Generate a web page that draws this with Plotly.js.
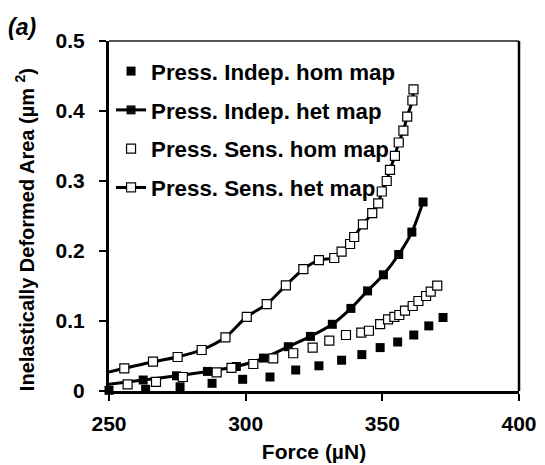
<!DOCTYPE html>
<html>
<head>
<meta charset="utf-8">
<script src="https://cdn.plot.ly/plotly-3.0.1.min.js"></script>
<style>
  html, body { margin: 0; padding: 0; background: #fff; }
  #chart { width: 545px; height: 465px; }
</style>
</head>
<body>
<div id="chart"></div>
<script>
// Force (µN) and inelastically deformed area (µm²) for each contact model
const indepHomForce = [250, 263.4, 276, 287.7, 298.9, 308.9, 318.3, 326.8, 335.1, 342.5, 349.2, 355.6, 361.5, 367, 372.2];
const indepHomArea  = [0.001, 0.0024, 0.006, 0.011, 0.0167, 0.020, 0.030, 0.036, 0.044, 0.052, 0.062, 0.070, 0.080, 0.093, 0.105];

const indepHetForce = [250, 262.5, 274.7, 286, 296.6, 306.5, 315.6, 323.7, 331.7, 338.5, 344.6, 350.4, 356, 360.8, 364.9];
const indepHetArea  = [0.0095, 0.0157, 0.0217, 0.028, 0.035, 0.047, 0.0633, 0.078, 0.0953, 0.118, 0.143, 0.166, 0.195, 0.227, 0.270];

const sensHomForce = [256.8, 267.2, 277, 289.4, 294.8, 302.8, 310.1, 317.4, 324.5, 330.6, 336.7, 342.3, 345.1, 349.2, 352.1, 354.4, 356.2, 358.3, 361.1, 363.2, 366, 367.7, 370.1];
const sensHomArea  = [0.0096, 0.0129, 0.020, 0.0267, 0.0329, 0.0386, 0.0467, 0.0539, 0.0621, 0.0719, 0.080, 0.0833, 0.0861, 0.0954, 0.1024, 0.106, 0.1086, 0.1147, 0.1214, 0.1286, 0.1357, 0.1419, 0.1504];

const sensHetForce = [250, 255.6, 266.1, 275.1, 283.9, 292.6, 300.4, 307.7, 314.7, 321.1, 326.8, 332.4, 335.1, 338.2, 339.7, 342.9, 346.3, 348.5, 349.8, 351.6, 352.8, 354.6, 356, 357.7, 359.1, 361, 361.4];
const sensHetArea  = [0.027, 0.0324, 0.0419, 0.0486, 0.0586, 0.0767, 0.106, 0.124, 0.151, 0.174, 0.187, 0.19, 0.199, 0.21, 0.22, 0.238, 0.254, 0.268, 0.285, 0.30, 0.316, 0.336, 0.355, 0.372, 0.392, 0.415, 0.431];

const xTicks = [250, 300, 350, 400];
const yTicks = [0, 0.1, 0.2, 0.3, 0.4, 0.5];

const seriesNames = [
  'Press. Indep. hom map',
  'Press. Indep. het map',
  'Press. Sens. hom map',
  'Press. Sens. het map'
];

const FONT = 'Arial, "Liberation Sans", Helvetica, sans-serif';
const MS = 9;
// a little extra room between the y tick labels and their ticks
const Y_LABEL_PAD = '\u00a0\u2009';

// the het curves run to the axis; their first point carries no visible marker
function opacityFromSecond(n) {
  return Array.from({length: n}, (_, i) => (i === 0 ? 0 : 1));
}

const traces = [
  {
    name: seriesNames[0], legendgroup: 'g1',
    x: indepHomForce, y: indepHomArea,
    mode: 'markers', type: 'scatter', cliponaxis: false,
    marker: {symbol: 'square', size: MS, color: '#000'}
  },
  {
    name: seriesNames[1], legendgroup: 'g2',
    x: indepHetForce, y: indepHetArea,
    mode: 'lines+markers', type: 'scatter',
    line: {color: '#000', width: 3, shape: 'spline', smoothing: 0.8},
    marker: {symbol: 'square', size: MS, color: '#000', opacity: opacityFromSecond(indepHetForce.length)}
  },
  {
    name: seriesNames[2], legendgroup: 'g3',
    x: sensHomForce, y: sensHomArea,
    mode: 'markers', type: 'scatter',
    marker: {symbol: 'square', size: MS, color: '#fff', line: {color: '#000', width: 1.2}}
  },
  {
    name: seriesNames[3], legendgroup: 'g4',
    x: sensHetForce, y: sensHetArea,
    mode: 'lines+markers', type: 'scatter',
    line: {color: '#000', width: 3, shape: 'spline', smoothing: 0.8},
    marker: {symbol: 'square', size: MS, color: '#fff', line: {color: '#000', width: 1.2},
             opacity: opacityFromSecond(sensHetForce.length)}
  }
];

const axisCommon = {
  showgrid: false, zeroline: false,
  showline: true, linecolor: '#000', linewidth: 3,
  ticks: 'outside', ticklen: 7, tickwidth: 2, tickcolor: '#000',
  tickfont: {family: FONT, size: 21, color: '#000', weight: 'bold'},
  fixedrange: true
};

const layout = {
  width: 545, height: 465,
  margin: {l: 109, r: 26, t: 41, b: 74},
  paper_bgcolor: '#fff', plot_bgcolor: '#fff',
  showlegend: true,
  legend: {
    x: 0.005, xanchor: 'left', y: 0.974, yanchor: 'top',
    bgcolor: 'rgba(0,0,0,0)', borderwidth: 0,
    traceorder: 'grouped', tracegroupgap: 6.8,
    font: {family: FONT, size: 22.3, color: '#000', weight: 'bold'}
  },
  xaxis: Object.assign({}, axisCommon, {
    range: [250, 400], tickvals: xTicks, ticktext: xTicks.map(String),
    ticklabelstandoff: 5,
    title: {text: 'Force (µN)', font: {family: FONT, size: 21, color: '#000', weight: 'bold'}, standoff: 11}
  }),
  yaxis: Object.assign({}, axisCommon, {
    range: [0, 0.5], tickvals: yTicks,
    ticktext: yTicks.map(v => (v === 0 ? '0' : v.toFixed(1)) + Y_LABEL_PAD)
  }),
  shapes: [
    // plot frame: top and right edges
    {type: 'line', xref: 'paper', yref: 'paper', x0: 0, x1: 1, y0: 1, y1: 1, line: {color: '#555', width: 2}},
    {type: 'line', xref: 'paper', yref: 'paper', x0: 1, x1: 1, y0: 0, y1: 1, line: {color: '#000', width: 2.5}}
  ],
  annotations: [
    {text: '<i>(a)</i>', xref: 'paper', yref: 'paper', x: -0.251, y: 1.039, xanchor: 'left', yanchor: 'middle',
     showarrow: false, font: {family: FONT, size: 23, color: '#000', weight: 'bold'}},
    // y-axis title
    {text: 'Inelastically Deformed Area (µm <sup>2</sup>)', xref: 'paper', yref: 'paper',
     x: -0.207, y: 0.46, xanchor: 'center', yanchor: 'middle', textangle: -90,
     showarrow: false, font: {family: FONT, size: 20, color: '#000', weight: 'bold'}}
  ]
};

Plotly.newPlot('chart', traces, layout, {staticPlot: true, displayModeBar: false});
</script>
</body>
</html>
